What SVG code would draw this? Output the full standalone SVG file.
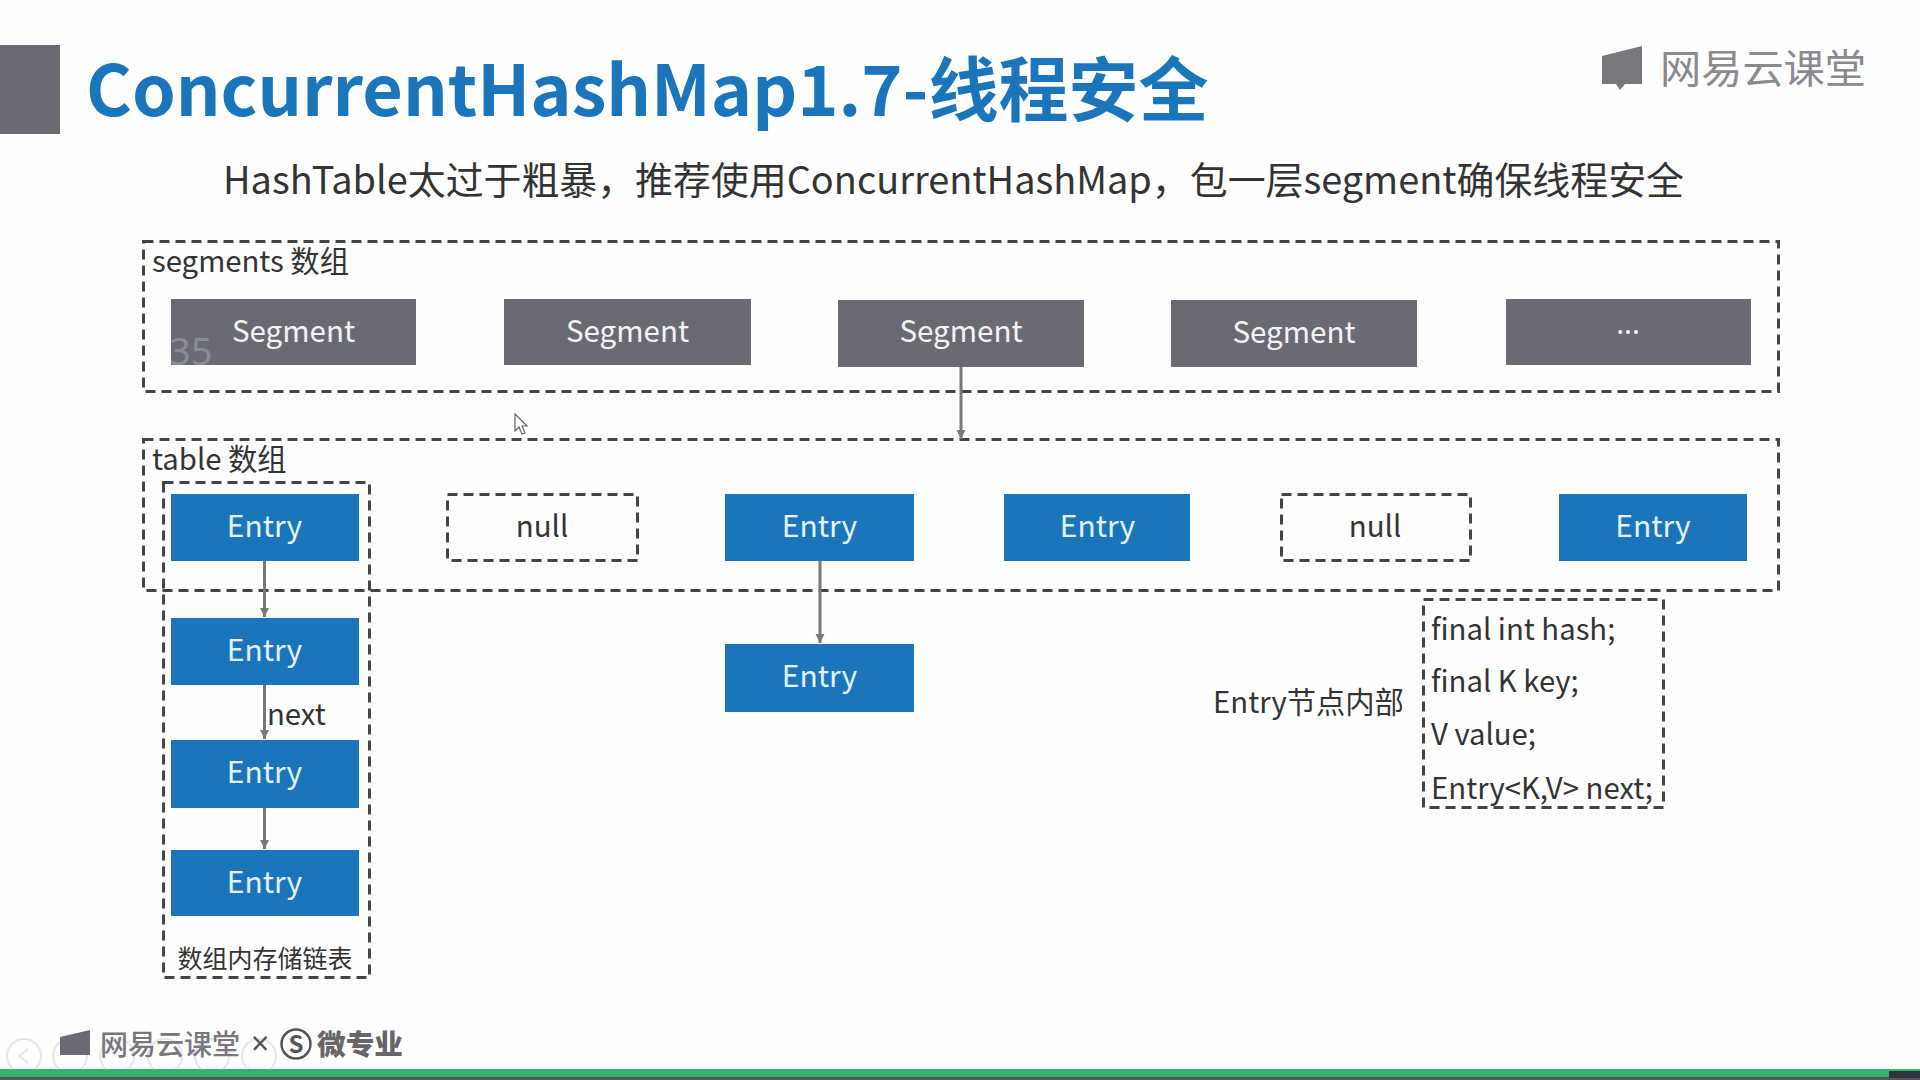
<svg xmlns="http://www.w3.org/2000/svg" width="1920" height="1080" viewBox="0 0 1920 1080">
<defs>
<marker id="arr" markerWidth="12" markerHeight="10" refX="10" refY="5" orient="auto" markerUnits="userSpaceOnUse"><path d="M1,0.500 L10,5 L1,9.500 Z" fill="#77777c"/></marker>
</defs>
<style>
text{font-family:"Noto Sans CJK SC","Noto Sans",sans-serif;}
.dash{fill:none;stroke:#444;stroke-width:3;stroke-dasharray:10 6;}
.seg{fill:#6a6b72;}
.ent{fill:#1a75bb;}
.wl{fill:#f4f4f4;font-size:29.500px;text-anchor:middle;}
.wb{fill:#e4f3ff;font-size:30px;text-anchor:middle;}
.dk{fill:#333;font-size:29.300px;}
.conn{stroke:#77777c;stroke-width:3;fill:none;marker-end:url(#arr);}
.ghost{fill:none;stroke:#e6e6e6;stroke-width:2;}
</style>
<rect width="1920" height="1080" fill="#fefefe"/>
<g id="header">
<rect x="0" y="45" width="60" height="89" fill="#6a6b72"/>
<text x="86" y="116" font-size="70" font-weight="700" fill="#1a75bb">ConcurrentHashMap1.7-线程安全</text>
<text x="223" y="194" font-size="37.900" fill="#333">HashTable太过于粗暴，推荐使用ConcurrentHashMap，包一层segment确保线程安全</text>
</g>
<g id="logo-top">
<path d="M1602,56 L1626,50 L1642,46 L1642,84 L1625,84 L1620,90 L1616,84 L1602,84 Z" fill="#77777c"/>
<text x="1660" y="83" font-size="40" fill="#8a8a8e" textLength="206" lengthAdjust="spacingAndGlyphs">网易云课堂</text>
</g>
<g id="segments">
<rect class="dash" x="143.500" y="241.500" width="1635" height="150"/>
<text class="dk" x="152" y="272">segments 数组</text>
</g>
<g id="segment-1"><rect class="seg" x="171" y="299" width="245" height="66"/><text class="wl" x="293.500" y="342">Segment</text></g>
<text x="169" y="365" font-size="38" fill="#9a9ba1" opacity="0.7" id="ghost-number" style="font-family:'Noto Sans',sans-serif">35</text>
<g id="segment-2"><rect class="seg" x="504" y="299" width="247" height="66"/><text class="wl" x="627.500" y="342">Segment</text></g>
<g id="segment-3"><rect class="seg" x="838" y="300" width="246" height="67"/><text class="wl" x="961" y="342">Segment</text></g>
<g id="segment-4"><rect class="seg" x="1171" y="300" width="246" height="67"/><text class="wl" x="1294" y="343">Segment</text></g>
<g id="segment-5"><rect class="seg" x="1506" y="299" width="245" height="66"/><text class="wl" x="1628" y="342" style="font-family:'Noto Sans',sans-serif">···</text></g>
<g id="table">
<rect class="dash" x="143.500" y="439.500" width="1635" height="151"/>
<text class="dk" x="152" y="470">table 数组</text>
</g>
<g id="chain-box">
<rect class="dash" x="163.500" y="482.500" width="206" height="495"/>
<text x="265" y="968" font-size="25" fill="#333" text-anchor="middle">数组内存储链表</text>
</g>
<g id="connectors">
<path class="conn" d="M961,367 V439"/>
<path class="conn" d="M264.500,560 V617"/>
<path class="conn" d="M264.500,685 V739"/>
<path class="conn" d="M264.500,807 V849"/>
<path class="conn" d="M820,561 V643"/>
</g>
<g id="entry-1"><rect class="ent" x="171" y="494" width="188" height="67"/><text class="wb" x="264.500" y="537">Entry</text></g>
<g id="entry-2"><rect class="ent" x="171" y="618" width="188" height="67"/><text class="wb" x="264.500" y="661">Entry</text></g>
<g id="entry-3"><rect class="ent" x="171" y="740" width="188" height="68"/><text class="wb" x="264.500" y="783">Entry</text></g>
<g id="entry-4"><rect class="ent" x="171" y="850" width="188" height="66"/><text class="wb" x="264.500" y="893">Entry</text></g>
<text class="dk" x="267" y="725" id="next-label">next</text>
<g id="null-1"><rect class="dash" x="447.500" y="494.500" width="190" height="66"/><text x="542" y="537" font-size="29.500" fill="#333" text-anchor="middle">null</text></g>
<g id="entry-5"><rect class="ent" x="725" y="494" width="189" height="67"/><text class="wb" x="819.500" y="537">Entry</text></g>
<g id="entry-6"><rect class="ent" x="725" y="644" width="189" height="68"/><text class="wb" x="819.500" y="687">Entry</text></g>
<g id="entry-7"><rect class="ent" x="1004" y="494" width="186" height="67"/><text class="wb" x="1097.500" y="537">Entry</text></g>
<g id="null-2"><rect class="dash" x="1281.500" y="494.500" width="189" height="66"/><text x="1375" y="537" font-size="29.500" fill="#333" text-anchor="middle">null</text></g>
<g id="entry-8"><rect class="ent" x="1559" y="494" width="188" height="67"/><text class="wb" x="1653" y="537">Entry</text></g>
<g id="entry-internals">
<text class="dk" x="1213" y="713">Entry节点内部</text>
<rect class="dash" x="1423.500" y="599.500" width="240" height="208"/>
<text class="dk" x="1431" y="640">final int hash;</text>
<text class="dk" x="1431" y="692">final K key;</text>
<text class="dk" x="1431" y="745">V value;</text>
<text class="dk" x="1431" y="799">Entry&lt;K,V&gt; next;</text>
</g>
<path id="cursor" d="M515,414 V431 L519,427 L522,434 L525,433 L522,426 L527,426 Z" fill="#fff" stroke="#666" stroke-width="1.2"/>
<g id="player-controls">
<circle class="ghost" cx="24" cy="1056" r="17"/><path class="ghost" d="M28,1049 L19,1056 L28,1063"/>
<circle class="ghost" cx="70" cy="1056" r="17"/>
<circle class="ghost" cx="117" cy="1056" r="17"/>
<circle class="ghost" cx="165" cy="1056" r="17"/>
<circle class="ghost" cx="212" cy="1056" r="17"/>
<circle class="ghost" cx="259" cy="1056" r="17"/>
</g>
<g id="logo-bottom">
<path d="M60,1037 L90,1030 L90,1055 L60,1055 Z" fill="#6a6b72"/>
<text x="100" y="1055" font-size="28" font-weight="500" fill="#77777c" textLength="140" lengthAdjust="spacingAndGlyphs">网易云课堂</text>
<text x="251" y="1055" font-size="32" fill="#555" style="font-family:'Noto Sans',sans-serif">×</text>
<circle cx="296" cy="1044" r="14.500" fill="none" stroke="#555" stroke-width="2.500"/>
<text x="296" y="1053" font-size="24" font-weight="700" fill="#555" text-anchor="middle">S</text>
<text x="317" y="1055" font-size="28" font-weight="900" fill="#666" textLength="86" lengthAdjust="spacingAndGlyphs">微专业</text>
</g>
<g id="progress">
<rect x="0" y="1069" width="1920" height="8" fill="#35b074"/>
<rect x="0" y="1077" width="1920" height="3" fill="#555"/>
<rect x="1889" y="1071" width="31" height="7" fill="#2d3340"/>
</g>
</svg>
